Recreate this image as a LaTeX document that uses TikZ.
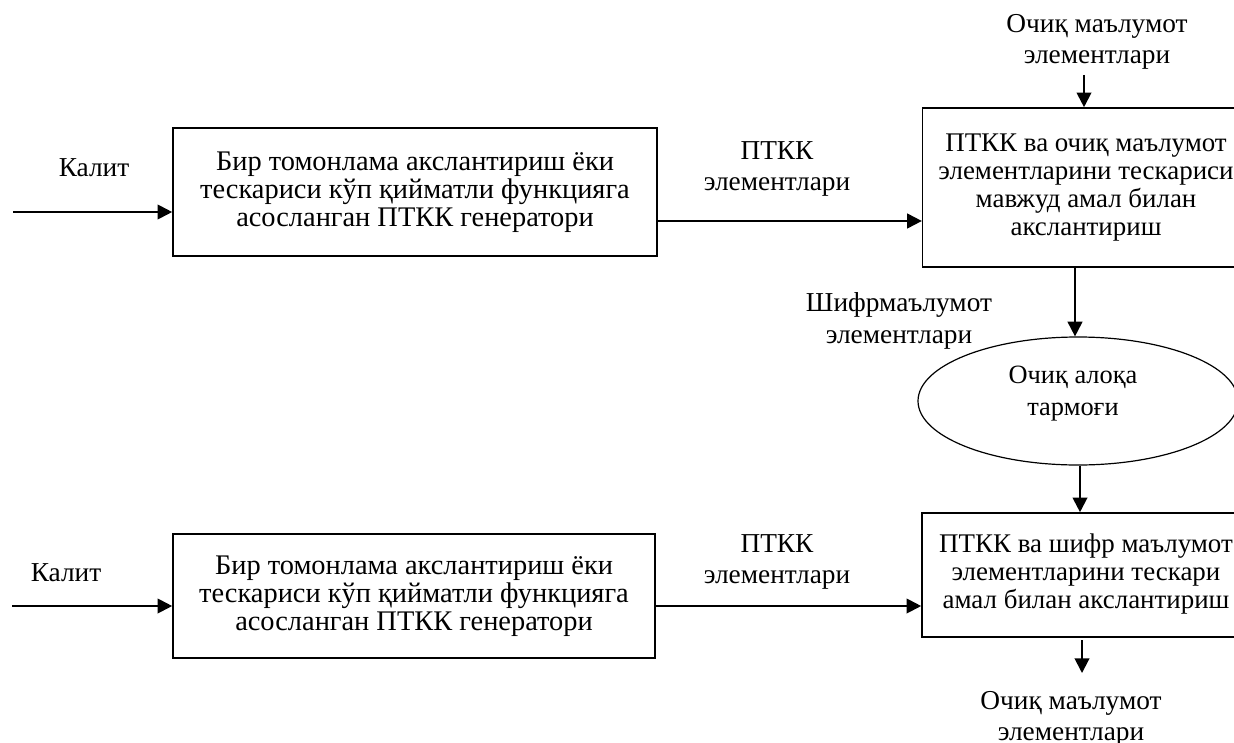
\documentclass[tikz,border=0pt]{standalone}
\usepackage{fontspec}
\setmainfont{Liberation Serif}
\usetikzlibrary{arrows.meta,shapes.geometric}
\begin{document}
\begin{tikzpicture}[x=0.75pt,y=-0.75pt,
  gbox/.style={draw,line width=1.2pt,align=center,inner sep=0pt,font=\fontsize{21.3}{21}\selectfont},
  rbox/.style={draw,line width=1.2pt,inner sep=0pt,font=\fontsize{20.2}{21}\selectfont},
  lbl/.style={align=center,inner sep=0pt,font=\fontsize{20.5}{23.5}\selectfont},
  arr/.style={line width=1.5pt,-{Triangle[length=11pt,width=11pt]}}]
\useasboundingbox (0,0) rectangle (1234,742);
% boxes
\node[gbox,minimum width=363pt,minimum height=96pt] (g1) at (415,192)
  {Бир томонлама акслантириш ёки\\тескариси кўп қийматли функцияга\\асосланган ПТКК генератори};
\node[gbox,minimum width=361.5pt,minimum height=93pt] (g2) at (414,596)
  {Бир томонлама акслантириш ёки\\тескариси кўп қийматли функцияга\\асосланган ПТКК генератори};
\node[rbox,minimum width=245pt,minimum height=119.25pt] (tr) at (1086,187.5)
  {\begin{tabular}{@{}c@{}}ПТКК ва очиқ маълумот\\элементларини тескариси\\мавжуд амал билан\\акслантириш\end{tabular}\hspace{4pt}};
\node[draw,ellipse,line width=0.9pt,inner sep=0pt,minimum width=240pt,minimum height=96pt] (ell) at (1078,401) {};
\node[lbl,font=\fontsize{19.8}{24}\selectfont] (ellt) at (1073,394) {Очиқ алоқа\\тармоғи};
\node[rbox,minimum width=246pt,minimum height=93pt] (br) at (1086,575)
  {\begin{tabular}{@{}c@{}}ПТКК ва шифр маълумот\\элементларини тескари\\амал билан акслантириш\end{tabular}\hspace{19pt}};
% labels
\node[lbl] (k1) at (94,168) {Калит};
\node[lbl] (k2) at (66,573) {Калит};
\node[lbl] (p1) at (777,169) {ПТКК\\элементлари};
\node[lbl] (p2) at (777,562) {ПТКК\\элементлари};
\node[lbl] (in) at (1097,42) {Очиқ маълумот\\элементлари};
\node[lbl] (sh) at (899,321) {Шифрмаълумот\\элементлари};
\node[lbl] (out) at (1071,719) {Очиқ маълумот\\элементлари};
% coordinates
\coordinate (s1) at (13,212);
\coordinate (s2) at (12,606);
\coordinate (a1) at (657,221);
\coordinate (a2) at (655,606);
\coordinate (t0) at (1084,75);
\coordinate (c1) at (1075,0);
\coordinate (c2) at (1080,0);
\coordinate (o0) at (1082,640);
\coordinate (o1) at (1082,673);
% connectors
\draw[arr] (s1) -- (s1 -| g1.west);
\draw[arr] (s2) -- (s2 -| g2.west);
\draw[arr] (a1) -- (a1 -| tr.west);
\draw[arr] (a2) -- (a2 -| br.west);
\draw[arr] (t0) -- (t0 |- tr.north);
\draw[arr] (c1 |- tr.south) -- (c1 |- ell.north);
\draw[arr] (c2 |- ell.south) -- (c2 |- br.north);
\draw[arr] (o0) -- (o1);
\end{tikzpicture}
\end{document}
